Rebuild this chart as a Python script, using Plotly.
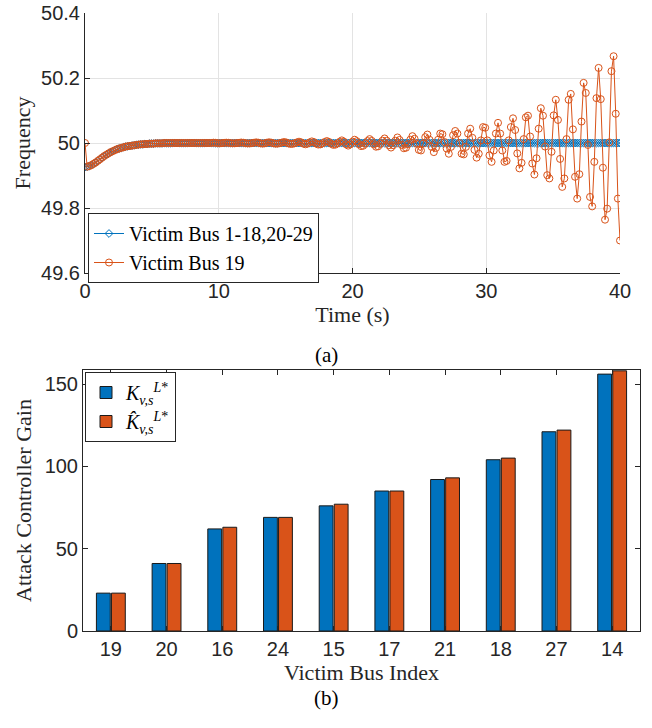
import plotly.graph_objects as go

# ---------------- data: (a) frequency time series ----------------
dt = 0.16  # sampling step in seconds

freq_victim_19 = [
    50.000, 49.927, 49.929, 49.932, 49.936, 49.940, 49.945, 49.950, 49.955, 49.960,
    49.964, 49.968, 49.972, 49.975, 49.978, 49.981, 49.983, 49.985, 49.987, 49.989,
    49.990, 49.991, 49.992, 49.993, 49.994, 49.995, 49.996, 49.996, 49.997, 49.997,
    49.998, 49.998, 49.998, 49.999, 49.999, 49.999, 49.999, 50.000,
    50.000, 50.000, 50.000, 50.000, 50.000, 50.000, 50.000, 50.000, 50.000, 50.000, 50.000,
    50.000, 50.000, 50.000, 50.000, 50.000, 50.000, 50.000, 50.000, 50.000, 50.000, 50.000,
    50.0010, 50.0005, 49.9995, 49.9990, 49.9995, 50.0005,
    50.0010, 50.0006, 49.9996, 49.9990, 49.9991, 49.9998, 50.0006,
    50.0015, 50.0008, 49.9995, 49.9986, 49.9987, 49.9997, 50.0009,
    50.0020, 50.0010, 49.9990, 49.9980, 49.9990, 50.0010,
    50.0022, 50.0012, 49.9992, 49.9979, 49.9981, 49.9996, 50.0013,
    50.0030, 50.0017, 49.9989, 49.9971, 49.9974, 49.9994, 50.0018,
    50.0040, 50.0020, 49.9980, 49.9960, 49.9980, 50.0020,
    50.0050, 50.0028, 49.9982, 49.9952, 49.9957, 49.9990, 50.0030,
    50.0060, 50.0033, 49.9979, 49.9943, 49.9949, 49.9988, 50.0036,
    50.0080, 50.0040, 49.9960, 49.9920, 49.9960, 50.0040,
    50.0100, 50.0055, 49.9965, 49.9905, 49.9915, 49.9980, 50.0060,
    50.0120, 50.0066, 49.9958, 49.9886, 49.9898, 49.9976, 50.0072,
    50.0140, 50.0070, 49.9930, 49.9860, 49.9930, 50.0070,
    50.0170, 50.0094, 49.9940, 49.9838, 49.9855, 49.9966, 50.0102,
    50.021, 50.013, 49.998, 49.979, 49.977, 49.998, 50.018,
    50.026, 50.010, 49.988, 49.972, 49.985, 50.010, 50.029,
    50.027, 50.003, 49.983, 49.967, 49.988, 50.024, 50.037,
    50.029, 50.000, 49.967, 49.965, 49.988, 50.029, 50.044,
    50.016, 49.979, 49.955, 49.967, 50.008, 50.049, 50.047,
    50.008, 49.962, 49.942, 49.977, 50.029, 50.062, 50.029,
    49.977, 49.942, 49.945, 50.008, 50.049,
    50.076, 50.040, 49.968, 49.922, 49.939, 50.012, 50.079, 50.084, 50.020, 49.937,
    49.903, 49.953, 50.044, 50.107, 50.084, 49.989, 49.901, 49.891, 49.973, 50.085,
    50.133, 50.071, 49.951, 49.865, 49.891, 50.012, 50.133, 50.151, 50.042, 49.896,
    49.829, 49.904, 50.066, 50.185, 50.154, 49.994, 49.834, 49.805, 49.942, 50.138,
    50.231, 50.135, 49.924, 49.764, 49.798, 50.002, 50.221, 50.267, 50.090, 49.829,
    49.700,
]

freq_other_buses = [
    49.926, 49.927, 49.929, 49.932, 49.936, 49.940, 49.945, 49.950, 49.955, 49.960,
    49.964, 49.968, 49.972, 49.975, 49.978, 49.981, 49.983, 49.985, 49.987, 49.989,
    49.990, 49.991, 49.992, 49.993, 49.994, 49.995, 49.996, 49.996, 49.997, 49.997,
    49.998, 49.998, 49.998, 49.999, 49.999, 49.999, 49.999, 50.0, 50.0, 50.0,
    50.0, 50.0, 50.0, 50.0, 50.0, 50.0, 50.0, 50.0, 50.0, 50.0, 50.0, 50.0, 50.0, 50.0, 50.0, 50.0, 50.0, 50.0, 50.0, 50.0,
    50.0, 50.0, 50.0, 50.0, 50.0, 50.0, 50.0, 50.0, 50.0, 50.0, 50.0, 50.0, 50.0, 50.0, 50.0, 50.0, 50.0, 50.0, 50.0, 50.0,
    50.0, 50.0, 50.0, 50.0, 50.0, 50.0, 50.0, 50.0, 50.0, 50.0, 50.0, 50.0, 50.0, 50.0, 50.0, 50.0, 50.0, 50.0, 50.0, 50.0,
    50.0, 50.0, 50.0, 50.0, 50.0, 50.0, 50.0, 50.0, 50.0, 50.0, 50.0, 50.0, 50.0, 50.0, 50.0, 50.0, 50.0, 50.0, 50.0, 50.0,
    50.0, 50.0, 50.0, 50.0, 50.0, 50.0, 50.0, 50.0, 50.0, 50.0, 50.0, 50.0, 50.0, 50.0, 50.0, 50.0, 50.0, 50.0, 50.0, 50.0,
    50.0, 50.0, 50.0, 50.0, 50.0, 50.0, 50.0, 50.0, 50.0, 50.0, 50.0, 50.0, 50.0, 50.0, 50.0, 50.0, 50.0, 50.0, 50.0, 50.0,
    50.0, 50.0, 50.0, 50.0, 50.0, 50.0, 50.0, 50.0, 50.0, 50.0, 50.0, 50.0, 50.0, 50.0, 50.0, 50.0, 50.0, 50.0, 50.0, 50.0,
    50.0, 50.0, 50.0, 50.0, 50.0, 50.0, 50.0, 50.0, 50.0, 50.0, 50.0, 50.0, 50.0, 50.0, 50.0, 50.0, 50.0, 50.0, 50.0, 50.0,
    50.0, 50.0, 50.0, 50.0, 50.0, 50.0, 50.0, 50.0, 50.0, 50.0, 50.0, 50.0, 50.0, 50.0, 50.0, 50.0, 50.0, 50.0, 50.0, 50.0,
    50.0, 50.0, 50.0, 50.0, 50.0, 50.0, 50.0, 50.0, 50.0, 50.0, 50.0, 50.0, 50.0, 50.0, 50.0, 50.0, 50.0, 50.0, 50.0, 50.0,
    50.0, 50.0, 50.0, 50.0, 50.0, 50.0, 50.0, 50.0, 50.0, 50.0, 50.0,
]

time_19 = [round(i * dt, 2) for i in range(len(freq_victim_19))]
time_other = [round(i * dt, 2) for i in range(len(freq_other_buses))]

freq_ticks = [49.6, 49.8, 50.0, 50.2, 50.4]
freq_tick_text = ["49.6", "49.8", "50", "50.2", "50.4"]
time_ticks = [0, 10, 20, 30, 40]

# ---------------- data: (b) attack controller gains ----------------
bus_index = ["19", "20", "16", "24", "15", "17", "21", "18", "27", "14"]
gain_K = [23, 41, 62, 69, 76, 85, 92, 104, 121, 156]
gain_K_hat = [23, 41, 63, 69, 77, 85, 93, 105, 122, 158]
gain_ticks = [0, 50, 100, 150]

BLUE = "#0072BD"
ORANGE = "#D95319"
AXC = "#262626"
GRID = "#e3e3e3"
SANS = "Liberation Sans, Arial, sans-serif"
SERIF = "Liberation Serif, Times New Roman, serif"

W, H = 652, 728

fig = go.Figure()

fig.add_trace(go.Scatter(
    x=time_other, y=freq_other_buses, mode="lines+markers",
    name="Victim Bus 1-18,20-29",
    line=dict(color=BLUE, width=1),
    marker=dict(symbol="diamond-open", size=6, color=BLUE, line=dict(width=1)),
    xaxis="x", yaxis="y", legend="legend",
))
fig.add_trace(go.Scatter(
    x=time_19, y=freq_victim_19, mode="lines+markers",
    name="Victim Bus 19",
    line=dict(color=ORANGE, width=1),
    marker=dict(symbol="circle-open", size=7, color=ORANGE, line=dict(width=1)),
    xaxis="x", yaxis="y", legend="legend",
))

fig.add_trace(go.Bar(
    x=bus_index, y=gain_K,
    name="<i>K</i><sub><i>v,s</i></sub><sup><i>L</i>*</sup>",
    marker=dict(color=BLUE, line=dict(color="#1a1a1a", width=1)),
    xaxis="x2", yaxis="y2", legend="legend2",
))
fig.add_trace(go.Bar(
    x=bus_index, y=gain_K_hat,
    name="<i>K\u0302</i><sub><i>v,s</i></sub><sup><i>L</i>*</sup>",
    marker=dict(color=ORANGE, line=dict(color="#1a1a1a", width=1)),
    xaxis="x2", yaxis="y2", legend="legend2",
))

def px_x(p):
    return p / W

def px_y(p):
    return 1 - p / H

tick_font = dict(family=SANS, size=20, color=AXC)
title_font = dict(family=SERIF, size=22, color=AXC)

fig.update_layout(
    width=W, height=H,
    margin=dict(l=0, r=0, t=0, b=0, autoexpand=False),
    paper_bgcolor="white", plot_bgcolor="white",
    barmode="group", bargap=0.46, bargroupgap=0.08,
    xaxis=dict(
        domain=[px_x(85), px_x(620)], range=[0, 40],
        tickvals=time_ticks, ticks="inside", ticklen=5, tickcolor=AXC,
        showline=True, linecolor=AXC, linewidth=1, mirror=False,
        showgrid=True, gridcolor=GRID, gridwidth=1, zeroline=False,
        tickfont=tick_font, automargin=False, ticklabeloverflow="allow",
        title=dict(text="Time (s)", font=title_font, standoff=2),
        anchor="y",
    ),
    yaxis=dict(
        domain=[px_y(273), px_y(13)], range=[49.6, 50.4],
        tickvals=freq_ticks, ticktext=freq_tick_text,
        ticks="inside", ticklen=5, tickcolor=AXC,
        showline=True, linecolor=AXC, linewidth=1, mirror=False,
        showgrid=True, gridcolor=GRID, gridwidth=1, zeroline=False,
        tickfont=tick_font, automargin=False, ticklabeloverflow="allow",
        title=dict(text="Frequency", font=title_font, standoff=4),
        anchor="x",
    ),
    xaxis2=dict(
        domain=[px_x(83), px_x(640)], range=[-0.5, 9.5],
        type="category",
        ticks="inside", ticklen=5, tickcolor=AXC,
        showline=True, linecolor=AXC, linewidth=1, mirror="ticks",
        showgrid=False, zeroline=False,
        tickfont=tick_font, automargin=False, ticklabeloverflow="allow",
        title=dict(text="Victim Bus Index", font=title_font, standoff=2),
        anchor="y2",
    ),
    yaxis2=dict(
        domain=[px_y(631), px_y(370)], range=[0, 158.5],
        tickvals=gain_ticks,
        ticks="inside", ticklen=5, tickcolor=AXC,
        showline=True, linecolor=AXC, linewidth=1, mirror="ticks",
        showgrid=False, zeroline=False,
        tickfont=tick_font, automargin=False, ticklabeloverflow="allow",
        title=dict(text="Attack Controller Gain", font=title_font, standoff=6),
        anchor="x2",
    ),
    legend=dict(
        x=px_x(88), y=px_y(213), xanchor="left", yanchor="top",
        bgcolor="white", bordercolor=AXC, borderwidth=1,
        font=dict(family=SERIF, size=20, color="black"),
        itemwidth=30, tracegroupgap=0,
    ),
    legend2=dict(
        x=px_x(85), y=px_y(372), xanchor="left", yanchor="top",
        bgcolor="white", bordercolor=AXC, borderwidth=1,
        font=dict(family=SERIF, size=20, color="black"),
        itemwidth=30, tracegroupgap=0,
    ),
    annotations=[
        dict(text="(a)", x=px_x(326), y=px_y(355), xref="paper", yref="paper",
             showarrow=False, font=dict(family=SERIF, size=21, color="black")),
        dict(text="(b)", x=px_x(326), y=px_y(712), xref="paper", yref="paper",
             showarrow=False, font=dict(family=SERIF, size=21, color="black")),
    ],
)

# remove the browser's default 8 px body margin so the figure fills the window
fig.write_html(
    "out.html",
    config={"displayModeBar": False},
    post_script="document.body.style.margin='0px';",
)
